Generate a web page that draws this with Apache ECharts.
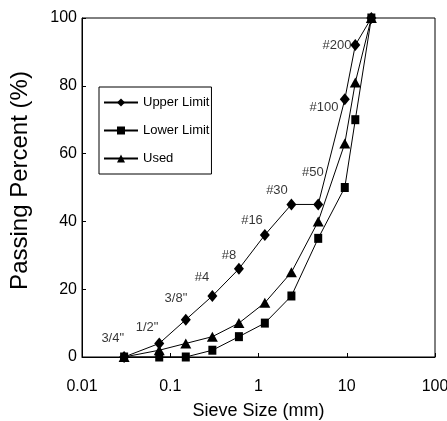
<!DOCTYPE html>
<html><head><meta charset="utf-8">
<script src="https://cdn.jsdelivr.net/npm/echarts@6/dist/echarts.min.js"></script>
<style>html,body{margin:0;padding:0;background:#fff}#c{width:447px;height:421px}</style>
</head><body><div id="c"></div>
<script>
const sieveSizes = [0.03, 0.075, 0.15, 0.3, 0.6, 1.18, 2.36, 4.75, 9.5, 12.5, 19];
const upperLimit = [0, 4, 11, 18, 26, 36, 45, 45, 76, 92, 100];
const lowerLimit = [0, 0, 0, 2, 6, 10, 18, 35, 50, 70, 100];
const usedGrad   = [0, 2, 4, 6, 10, 16, 25, 40, 63, 81, 100];
const sieveNames = ['3/4"', '1/2"', '3/8"', '#4', '#8', '#16', '#30', '#50', '#100', '#200'];
const sieveLabelX = [0.0223, 0.0546, 0.116, 0.229, 0.463, 0.844, 1.62, 4.14, 5.52, 7.76];
const sieveLabelY = [5.6, 8.6, 17.4, 23.6, 29.9, 40.2, 49, 54.4, 73.6, 92];
const xTicks = [0.01, 0.1, 1, 10, 100];

const FONT = '"Liberation Sans", Arial, sans-serif';
const pair = (xs, ys) => xs.map((x, i) => [x, ys[i]]);
const chart = echarts.init(document.getElementById('c'), null, {renderer: 'canvas'});
const lineStyle = {color: '#000', width: 1};
chart.setOption({
  animation: false,
  backgroundColor: '#fff',
  textStyle: {fontFamily: FONT, color: '#000'},
  grid: {left: 82, right: 12, top: 18, bottom: 64, show: true, borderColor: '#000', borderWidth: 1,
    containLabel: false, outerBoundsMode: 'none'},
  legend: {
    orient: 'vertical', left: 99, top: 87,
    data: ['Upper Limit', 'Lower Limit', 'Used'],
    itemWidth: 34, itemHeight: 10, itemGap: 15,
    padding: [9, 2, 9, 4],
    borderColor: '#000', borderWidth: 1,
    textStyle: {fontFamily: FONT, fontSize: 13, color: '#000'}
  },
  xAxis: {
    type: 'log', logBase: 10, min: 0.01, max: 100,
    name: 'Sieve Size (mm)', nameLocation: 'middle', nameGap: 45,
    nameTextStyle: {fontFamily: FONT, fontSize: 18, color: '#000'},
    axisLine: {lineStyle: {color: '#000'}},
    axisTick: {inside: true, length: 4, lineStyle: {color: '#000'}},
    splitLine: {show: false},
    axisLabel: {fontFamily: FONT, fontSize: 16, color: '#000', margin: 22,
      formatter: v => { const t = xTicks.find(k => Math.abs(k - v) / k < 1e-6); return t === undefined ? '' : String(t); }}
  },
  yAxis: {
    type: 'value', min: 0, max: 100, interval: 20,
    name: 'Passing Percent (%)', nameLocation: 'middle', nameGap: 50,
    nameTextStyle: {fontFamily: FONT, fontSize: 24, color: '#000', padding: [0, 0, 0, 14]},
    axisLine: {show: true, lineStyle: {color: '#000'}},
    axisTick: {show: true, inside: true, length: 4, lineStyle: {color: '#000'}},
    splitLine: {show: false},
    axisLabel: {fontFamily: FONT, fontSize: 16, color: '#000', margin: 5}
  },
  series: [
    {name: 'Upper Limit', type: 'line', data: pair(sieveSizes, upperLimit), symbol: 'diamond', symbolSize: [10, 12],
      itemStyle: {color: '#000'}, lineStyle},
    {name: 'Lower Limit', type: 'line', data: pair(sieveSizes, lowerLimit), symbol: 'rect', symbolSize: [8, 9],
      itemStyle: {color: '#000'}, lineStyle},
    {name: 'Used', type: 'line', data: pair(sieveSizes, usedGrad), symbol: 'triangle', symbolSize: [11, 10],
      itemStyle: {color: '#000'}, lineStyle},
    {name: 'sieves', type: 'scatter', silent: true, symbolSize: 0,
      data: sieveNames.map((n, i) => ({name: n, value: [sieveLabelX[i], sieveLabelY[i]]})),
      label: {show: true, position: 'inside', formatter: p => p.name, fontFamily: FONT, fontSize: 13, color: '#000'}}
  ]
});
</script></body></html>
